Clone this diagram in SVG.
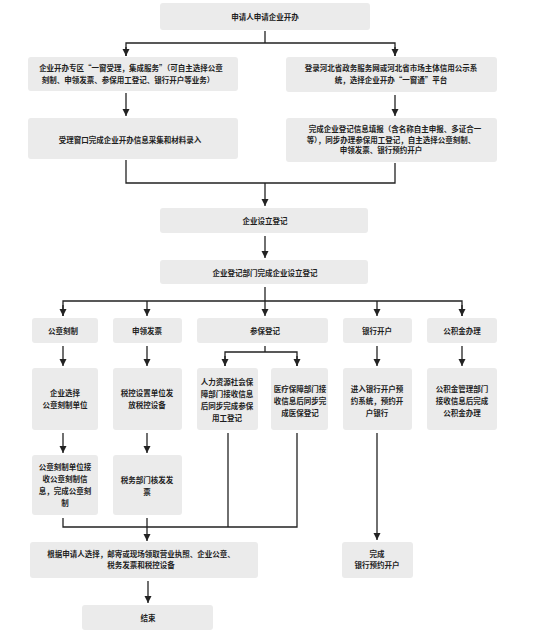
<svg xmlns="http://www.w3.org/2000/svg" width="548" height="643" viewBox="0 0 548 643">
<style>
.box{fill:#ebebeb;stroke:none}
.t{font-family:"Noto Sans CJK SC","Noto Sans",sans-serif;font-size:7.5px;font-weight:700;fill:#1e1e1e;text-anchor:middle}
.c{fill:none;stroke:#222;stroke-width:1.3}
</style>
<defs>
<marker id="ah" viewBox="0 0 8 8" markerUnits="userSpaceOnUse" markerWidth="7" markerHeight="8" refX="8" refY="4" orient="auto">
<path d="M0,0 L8,4 L0,8 z" fill="#222"/>
</marker>
</defs>
<rect width="548" height="643" fill="#fff"/>
<g id="connectors">
<path class="c" d="M265,31 V43"/>
<path class="c" d="M126,56 V43 H395 V56" />
<path class="c" d="M126,47 V56" marker-end="url(#ah)"/>
<path class="c" d="M395,47 V56" marker-end="url(#ah)"/>
<path class="c" d="M126,93 V116" marker-end="url(#ah)"/>
<path class="c" d="M395,95 V116" marker-end="url(#ah)"/>
<path class="c" d="M126,160 V183 H395 V163"/>
<path class="c" d="M265,183 V206" marker-end="url(#ah)"/>
<path class="c" d="M265,236 V258" marker-end="url(#ah)"/>
<path class="c" d="M265,287 V301"/>
<path class="c" d="M63,316 V301 H462 V316"/>
<path class="c" d="M63,305 V316" marker-end="url(#ah)"/>
<path class="c" d="M147,301 V316" marker-end="url(#ah)"/>
<path class="c" d="M265,301 V316" marker-end="url(#ah)"/>
<path class="c" d="M377,301 V316" marker-end="url(#ah)"/>
<path class="c" d="M462,305 V316" marker-end="url(#ah)"/>
<path class="c" d="M63,346 V366" marker-end="url(#ah)"/>
<path class="c" d="M147,346 V366" marker-end="url(#ah)"/>
<path class="c" d="M265,346 V352"/>
<path class="c" d="M225,366 V352 H297 V366"/>
<path class="c" d="M225,356 V366" marker-end="url(#ah)"/>
<path class="c" d="M297,356 V366" marker-end="url(#ah)"/>
<path class="c" d="M377,346 V366" marker-end="url(#ah)"/>
<path class="c" d="M462,346 V366" marker-end="url(#ah)"/>
<path class="c" d="M63,433 V453" marker-end="url(#ah)"/>
<path class="c" d="M147,433 V453" marker-end="url(#ah)"/>
<path class="c" d="M63,518 V527 H297 V433"/>
<path class="c" d="M228,433 V527"/>
<path class="c" d="M147,518 V541" marker-end="url(#ah)"/>
<path class="c" d="M377,433 V540" marker-end="url(#ah)"/>
<path class="c" d="M148,581 V603" marker-end="url(#ah)"/>
</g>
<g id="n1"><rect class="box" x="160" y="3" width="210" height="27" rx="3"/><text class="t" x="265" y="20">申请人申请企业开办</text></g>
<g id="n2"><rect class="box" x="28" y="57" width="210" height="34" rx="3"/><text class="t" x="131" y="71">企业开办专区“一窗受理，集成服务”（可自主选择公章</text><text class="t" x="128" y="83">刻制、申领发票、参保用工登记、银行开户等业务）</text></g>
<g id="n3"><rect class="box" x="28" y="118" width="210" height="41" rx="3"/><text class="t" x="130" y="143">受理窗口完成企业开办信息采集和材料录入</text></g>
<g id="n4"><rect class="box" x="286" y="57" width="211" height="35" rx="3"/><text class="t" x="391" y="71">登录河北省政务服务网或河北省市场主体信用公示系</text><text class="t" x="391" y="83">统，选择企业开办“一窗通”平台</text></g>
<g id="n5"><rect class="box" x="286" y="118" width="211" height="44" rx="3"/><text class="t" x="395" y="132">完成企业登记信息填报（含名称自主申报、多证合一</text><text class="t" x="391" y="143">等），同步办理参保用工登记，自主选择公章刻制、</text><text class="t" x="381" y="153">申领发票、银行预约开户</text></g>
<g id="n6"><rect class="box" x="160" y="208" width="208" height="25" rx="3"/><text class="t" x="265" y="224">企业设立登记</text></g>
<g id="n7"><rect class="box" x="160" y="260" width="208" height="24" rx="3"/><text class="t" x="265" y="276">企业登记部门完成企业设立登记</text></g>
<g id="n8"><rect class="box" x="32" y="318" width="66" height="25" rx="3"/><text class="t" x="63" y="334">公章刻制</text></g>
<g id="n9"><rect class="box" x="113" y="318" width="69" height="25" rx="3"/><text class="t" x="147" y="334">申领发票</text></g>
<g id="n10"><rect class="box" x="197" y="318" width="131" height="25" rx="3"/><text class="t" x="265" y="334">参保登记</text></g>
<g id="n11"><rect class="box" x="343" y="318" width="69" height="25" rx="3"/><text class="t" x="377" y="334">银行开户</text></g>
<g id="n12"><rect class="box" x="427" y="318" width="70" height="25" rx="3"/><text class="t" x="462" y="334">公积金办理</text></g>
<g id="n13"><rect class="box" x="32" y="368" width="66" height="62" rx="3"/><text class="t" x="65" y="396">企业选择</text><text class="t" x="65" y="408">公章刻制单位</text></g>
<g id="n14"><rect class="box" x="113" y="368" width="69" height="62" rx="3"/><text class="t" x="147" y="396">税控设置单位发</text><text class="t" x="147" y="408">放税控设备</text></g>
<g id="n15"><rect class="box" x="197" y="368" width="61" height="62" rx="3"/><text class="t" x="227" y="385">人力资源社会保</text><text class="t" x="227" y="397">障部门接收信息</text><text class="t" x="227" y="409">后同步完成参保</text><text class="t" x="227" y="421">用工登记</text></g>
<g id="n16"><rect class="box" x="271" y="368" width="57" height="62" rx="3"/><text class="t" x="300" y="392">医疗保障部门接</text><text class="t" x="300" y="404">收信息后同步完</text><text class="t" x="300" y="416">成医保登记</text></g>
<g id="n17"><rect class="box" x="343" y="368" width="69" height="62" rx="3"/><text class="t" x="377" y="392">进入银行开户预</text><text class="t" x="377" y="404">约系统，预约开</text><text class="t" x="377" y="416">户银行</text></g>
<g id="n18"><rect class="box" x="427" y="368" width="70" height="62" rx="3"/><text class="t" x="462" y="392">公积金管理部门</text><text class="t" x="462" y="404">接收信息后完成</text><text class="t" x="462" y="416">公积金办理</text></g>
<g id="n19"><rect class="box" x="32" y="455" width="66" height="60" rx="3"/><text class="t" x="65" y="470">公章刻制单位接</text><text class="t" x="65" y="482">收公章刻制信</text><text class="t" x="65" y="494">息，完成公章刻</text><text class="t" x="65" y="506">制</text></g>
<g id="n20"><rect class="box" x="113" y="455" width="69" height="60" rx="3"/><text class="t" x="147" y="483">税务部门核发发</text><text class="t" x="147" y="495">票</text></g>
<g id="n21"><rect class="box" x="30" y="542" width="228" height="36" rx="3"/><text class="t" x="141" y="557">根据申请人选择，邮寄或现场领取营业执照、企业公章、</text><text class="t" x="141" y="568">税务发票和税控设备</text></g>
<g id="n22"><rect class="box" x="342" y="542" width="71" height="36" rx="3"/><text class="t" x="377" y="557">完成</text><text class="t" x="377" y="568">银行预约开户</text></g>
<g id="n23"><rect class="box" x="82" y="605" width="131" height="25" rx="3"/><text class="t" x="148" y="621">结束</text></g>
</svg>
